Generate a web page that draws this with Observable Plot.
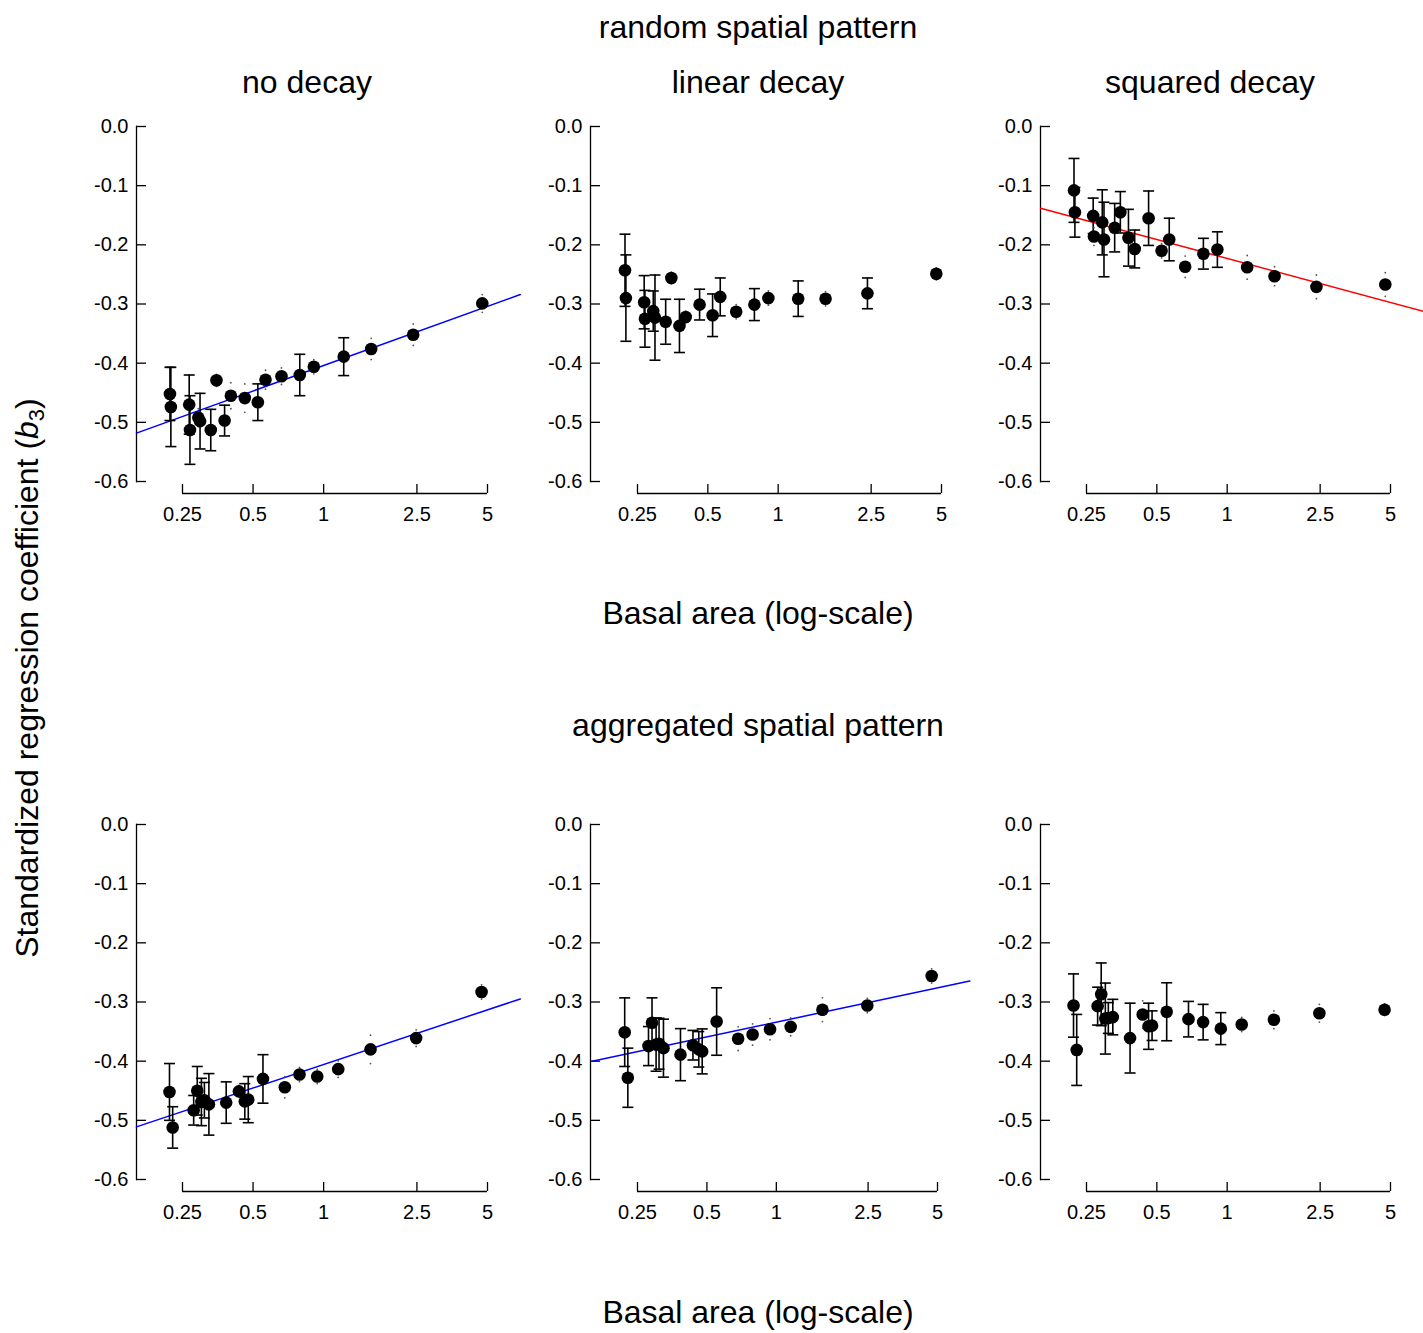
<!DOCTYPE html>
<html><head><meta charset="utf-8">
<script src="https://cdn.jsdelivr.net/npm/d3@7"></script>
<script src="https://cdn.jsdelivr.net/npm/@observablehq/plot@0.6"></script>
<style>
body{margin:0;background:#fff;}
#fig{position:relative;width:1423px;height:1333px;overflow:hidden;font-family:"Liberation Sans",Arial,Helvetica,sans-serif;color:#000;background:#fff;}
.panel{position:absolute;}
.t{position:absolute;font-size:32px;line-height:32px;white-space:nowrap;transform:translateX(-50%);z-index:5;}
.yl{position:absolute;font-size:32px;line-height:32px;white-space:nowrap;transform:translate(-50%,-50%) rotate(-90deg);z-index:5;}
.yl sub{font-size:22px;line-height:0;vertical-align:-0.25em;}
</style></head>
<body><div id="fig"></div>
<script>
// ---------- text ----------
const patternTitles = ["random spatial pattern", "aggregated spatial pattern"];
const decayTitles = ["no decay", "linear decay", "squared decay"];
const xLabel = "Basal area (log-scale)";

// ---------- ticks ----------
const yTicks = [0, -0.1, -0.2, -0.3, -0.4, -0.5, -0.6];
const xTicks = [0.25, 0.5, 1, 2.5, 5];

// ---------- basal area (x) ----------
const basalRandom = [0.221, 0.223, 0.267, 0.269, 0.292, 0.297, 0.330, 0.349, 0.378, 0.402, 0.461, 0.524, 0.565, 0.661, 0.791, 0.908, 1.218, 1.595, 2.41, 4.75];
const basalAggregated = [0.220, 0.227, 0.279, 0.289, 0.301, 0.310, 0.324, 0.384, 0.435, 0.461, 0.477, 0.551, 0.683, 0.789, 0.939, 1.154, 1.585, 2.481, 4.717];

// ---------- random spatial pattern ----------
const b3RandomNone   = [-0.452, -0.474, -0.470, -0.513, -0.492, -0.498, -0.513, -0.429, -0.497, -0.455, -0.459, -0.466, -0.428, -0.422, -0.420, -0.406, -0.389, -0.376, -0.352, -0.299];
const errRandomNone  = [0.045, 0.067, 0.050, 0.058, 0.015, 0.047, 0.035, 0.010, 0.026, 0.022, 0.024, 0.031, 0.016, 0.014, 0.035, 0.012, 0.032, 0.018, 0.018, 0.015];
const b3RandomLinear  = [-0.243, -0.290, -0.297, -0.325, -0.312, -0.323, -0.330, -0.256, -0.337, -0.322, -0.301, -0.319, -0.288, -0.313, -0.301, -0.290, -0.291, -0.291, -0.282, -0.249];
const errRandomLinear = [0.061, 0.073, 0.045, 0.048, 0.034, 0.072, 0.038, 0.010, 0.045, 0.010, 0.026, 0.036, 0.032, 0.012, 0.027, 0.012, 0.030, 0.012, 0.026, 0.010];
const b3RandomSquared  = [-0.108, -0.145, -0.151, -0.186, -0.162, -0.191, -0.171, -0.145, -0.188, -0.207, -0.155, -0.210, -0.191, -0.237, -0.215, -0.208, -0.238, -0.253, -0.271, -0.267];
const errRandomSquared = [0.054, 0.042, 0.030, 0.015, 0.055, 0.063, 0.041, 0.035, 0.048, 0.032, 0.046, 0.012, 0.036, 0.018, 0.026, 0.030, 0.020, 0.016, 0.020, 0.020];

// ---------- aggregated spatial pattern ----------
const b3AggNone   = [-0.452, -0.512, -0.483, -0.450, -0.469, -0.466, -0.473, -0.470, -0.451, -0.468, -0.465, -0.430, -0.444, -0.4225, -0.426, -0.4135, -0.380, -0.361, -0.283];
const errAggNone  = [0.048, 0.035, 0.025, 0.041, 0.040, 0.030, 0.052, 0.035, 0.010, 0.030, 0.039, 0.041, 0.018, 0.012, 0.012, 0.014, 0.024, 0.014, 0.012];
const b3AggLinear  = [-0.351, -0.428, -0.3745, -0.335, -0.372, -0.3705, -0.378, -0.389, -0.373, -0.380, -0.3835, -0.333, -0.362, -0.355, -0.346, -0.342, -0.313, -0.306, -0.256];
const errAggLinear = [0.058, 0.050, 0.033, 0.042, 0.045, 0.043, 0.049, 0.044, 0.025, 0.030, 0.038, 0.057, 0.020, 0.018, 0.018, 0.015, 0.020, 0.012, 0.012];
const b3AggSquared  = [-0.306, -0.381, -0.307, -0.287, -0.328, -0.327, -0.3255, -0.361, -0.321, -0.341, -0.340, -0.3165, -0.329, -0.334, -0.345, -0.338, -0.330, -0.319, -0.313];
const errAggSquared = [0.0535, 0.060, 0.032, 0.053, 0.060, 0.026, 0.030, 0.059, 0.023, 0.039, 0.025, 0.049, 0.030, 0.030, 0.027, 0.012, 0.015, 0.015, 0.010];

// ---------- fitted lines: b3 = intercept + slope * log10(basal area) ----------
const fitRandomNone    = [-0.404, 0.143];
const fitRandomSquared = [-0.223, -0.1064];
const fitAggNone       = [-0.4056, 0.1321];
const fitAggLinear     = [-0.334, 0.0827];
const fitSpan = [0.159, 6.9];

// ---------- panels ----------
const panels = [
  {row: 0, col: 0, x: basalRandom, b3: b3RandomNone, err: errRandomNone, fit: fitRandomNone, color: "#0000ff"},
  {row: 0, col: 1, x: basalRandom, b3: b3RandomLinear, err: errRandomLinear, fit: null},
  {row: 0, col: 2, x: basalRandom, b3: b3RandomSquared, err: errRandomSquared, fit: fitRandomSquared, color: "#ff0000"},
  {row: 1, col: 0, x: basalAggregated, b3: b3AggNone, err: errAggNone, fit: fitAggNone, color: "#0000ff"},
  {row: 1, col: 1, x: basalAggregated, b3: b3AggLinear, err: errAggLinear, fit: fitAggLinear, color: "#0000ff"},
  {row: 1, col: 2, x: basalAggregated, b3: b3AggSquared, err: errAggSquared, fit: null}
];

// ---------- layout (page pixels) ----------
const colAxis = [136, 590, 1040];
const colX025 = [182, 637, 1086];
const colX5 = [[487, 941, 1390], [487, 937, 1390]];
const rowY0 = [126, 824];
const rowY6 = [481, 1179];
const ML = 56, MT = 36, MB = 60;

const cap = {draw(ctx, size) { const w = Math.sqrt(size / Math.PI); ctx.moveTo(-w, 0); ctx.lineTo(w, 0); }};
const fig = document.getElementById("fig");

panels.forEach(p => {
  const left = colAxis[p.col] - ML, top = rowY0[p.row] - MT;
  const width = Math.min(440, 1423 - left);
  const height = (rowY6[p.row] - rowY0[p.row]) + MT + MB;
  const rows = p.x.map((x, i) => ({x, v: p.b3[i], e: p.err[i]}));
  const big = rows.filter(d => d.e >= 0.025), small = rows.filter(d => d.e < 0.025);
  const marks = [
    Plot.frame({anchor: "left", stroke: "#000", strokeWidth: 1.3}),
    Plot.axisY({ticks: yTicks, anchor: "left", label: null, tickSize: -10, tickPadding: 18, tickFormat: d => d.toFixed(1), fontSize: 20, strokeWidth: 1.3}),
    Plot.ruleY([yTicks[yTicks.length - 1]], {x1: xTicks[0], x2: xTicks[xTicks.length - 1], dy: 12, strokeWidth: 1.3}),
    Plot.axisX({ticks: xTicks, anchor: "bottom", label: null, tickSize: -9, tickPadding: 22, dy: 12, tickFormat: d => String(d), fontSize: 20, strokeWidth: 1.3})
  ];
  if (p.fit) marks.push(Plot.line(fitSpan.map(x => ({x, v: p.fit[0] + p.fit[1] * Math.log10(x)})), {x: "x", y: "v", stroke: p.color, strokeWidth: 1.5}));
  marks.push(
    Plot.ruleX(big, {x: "x", y1: d => d.v - d.e, y2: d => d.v + d.e, stroke: "#000", strokeWidth: 1.6}),
    Plot.dot(big, {x: "x", y: d => d.v + d.e, r: 5.5, symbol: cap, stroke: "#000", fill: "none", strokeWidth: 1.6}),
    Plot.dot(big, {x: "x", y: d => d.v - d.e, r: 5.5, symbol: cap, stroke: "#000", fill: "none", strokeWidth: 1.6}),
    Plot.dot(small, {x: "x", y: d => d.v + d.e, r: 0.9, fill: "#555", stroke: "none"}),
    Plot.dot(small, {x: "x", y: d => d.v - d.e, r: 0.9, fill: "#555", stroke: "none"}),
    Plot.dot(rows, {x: "x", y: "v", r: 6.3, fill: "#000", stroke: "none"})
  );
  const svg = Plot.plot({
    width, height,
    marginLeft: ML, marginTop: MT, marginBottom: MB, marginRight: 0,
    style: {background: "none", overflow: "visible", fontFamily: "'Liberation Sans', Arial, sans-serif", fontSize: "20px", color: "#000"},
    x: {type: "log", label: null, domain: [xTicks[0], xTicks[xTicks.length - 1]], range: [colX025[p.col] - left, colX5[p.row][p.col] - left]},
    y: {label: null, domain: [yTicks[yTicks.length - 1], yTicks[0]]},
    marks
  });
  svg.classList.add("panel");
  svg.style.left = left + "px";
  svg.style.top = top + "px";
  fig.appendChild(svg);
});

// ---------- titles ----------
function addText(html, cx, baseline) {
  const d = document.createElement("div");
  d.className = "t";
  d.innerHTML = html;
  d.style.left = cx + "px";
  d.style.top = (baseline - 27) + "px";
  fig.appendChild(d);
}
const colCenters = [307, 758, 1210];
addText(patternTitles[0], 758, 38);
decayTitles.forEach((t, i) => addText(t, colCenters[i], 93));
addText(xLabel, 758, 624);
addText(patternTitles[1], 758, 736);
addText(xLabel, 758, 1323);
const yl = document.createElement("div");
yl.className = "yl";
yl.innerHTML = "Standardized regression coefficient (<i>b</i><sub>3</sub>)";
yl.style.left = "27px";
yl.style.top = "678px";
fig.appendChild(yl);
</script></body></html>
